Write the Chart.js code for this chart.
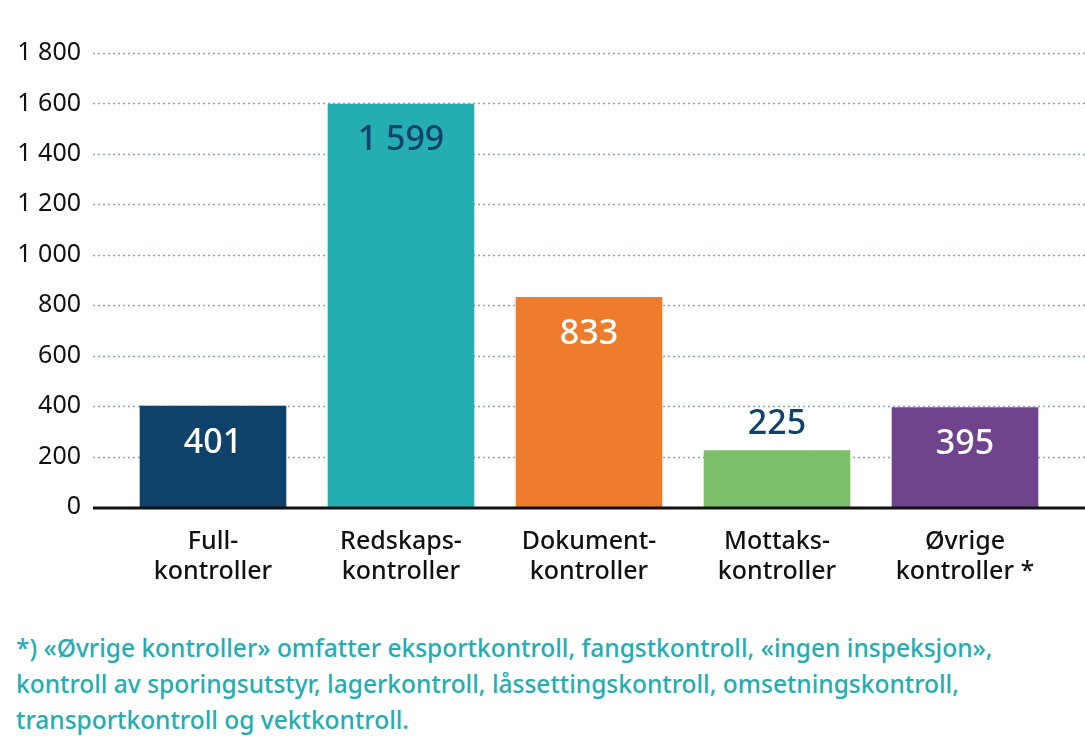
<!DOCTYPE html>
<html><head><meta charset="utf-8">
<script src="https://cdn.jsdelivr.net/npm/chart.js@4"></script>
<style>
body{margin:0;background:#fff;width:1085px;height:751px;overflow:hidden;font-family:"Noto Sans",sans-serif}
#wrap{position:absolute;left:0;top:0;width:1085px;height:615px}
#note{position:absolute;left:16px;top:630px;width:1075px;color:#23adb2;font-size:24.5px;line-height:36px;font-weight:500;white-space:nowrap}
</style></head><body>
<div id="wrap"><canvas id="c"></canvas></div>
<div id="note">*) «Øvrige kontroller» omfatter eksportkontroll, fangstkontroll, «ingen inspeksjon»,<br>kontroll av sporingsutstyr, lagerkontroll, låssettingskontroll, omsetningskontroll,<br>transportkontroll og vektkontroll.</div>
<script>
const categories=[["Full-","kontroller"],["Redskaps-","kontroller"],["Dokument-","kontroller"],["Mottaks-","kontroller"],["Øvrige","kontroller *"]];
const values=[401,1599,833,225,395];
const yTicks=[0,200,400,600,800,1000,1200,1400,1600,1800];
const barColors=["#0e426a","#24aeb2","#ef7b2d","#7dbe6b","#6f448c"];
const labelColors=["#fff","#0e426a","#fff","#0e426a","#fff"];
const labelInside=[true,true,true,false,true];
const fmt=v=>String(v).replace(/\B(?=(\d{3})+(?!\d))/g," ");
const labels={id:"lbl",afterDatasetsDraw(ch){const c=ch.ctx;const m=ch.getDatasetMeta(0);c.save();c.font="500 34px 'Noto Sans'";c.textAlign="center";c.textBaseline="middle";
m.data.forEach((b,i)=>{c.fillStyle=labelColors[i];const y=labelInside[i]?b.y+37:b.y-26;c.fillText(fmt(values[i]),b.x,y);});c.restore();}};
const grid={id:"grid",beforeDatasetsDraw(ch){const c=ch.ctx,y=ch.scales.y;c.save();c.strokeStyle="#8aa3b8";c.lineWidth=1.5;c.setLineDash([2,3]);
yTicks.forEach(t=>{if(t===0)return;const p=Math.round(y.getPixelForValue(t))+0.5;c.beginPath();c.moveTo(93,p);c.lineTo(1085,p);c.stroke();});c.restore();},
afterDatasetsDraw(ch){const c=ch.ctx,p=ch.scales.y.getPixelForValue(0)+1;c.save();c.strokeStyle="#111";c.lineWidth=3;c.beginPath();c.moveTo(93,p);c.lineTo(1085,p);c.stroke();c.restore();}};
new Chart(document.getElementById("c"),{type:"bar",
data:{labels:categories,datasets:[{data:values,backgroundColor:barColors,barPercentage:0.78,categoryPercentage:1}]},
options:{responsive:true,maintainAspectRatio:false,animation:false,
layout:{padding:{top:23,right:26,left:0,bottom:8}},
plugins:{legend:{display:false},tooltip:{enabled:false}},
scales:{
x:{grid:{display:false,drawTicks:false},border:{display:false},ticks:{color:"#111",font:{size:25,weight:"500",family:"'Noto Sans'"},padding:20}},
y:{min:0,max:1800,afterFit:s=>{s.width=119;},afterBuildTicks:s=>{s.ticks=yTicks.map(v=>({value:v}));},
ticks:{color:"#111",font:{size:25,family:"'Noto Sans'"},callback:v=>fmt(v),padding:38},
grid:{display:false,drawTicks:false},border:{display:false}}}}
,plugins:[grid,labels]});
</script></body></html>
